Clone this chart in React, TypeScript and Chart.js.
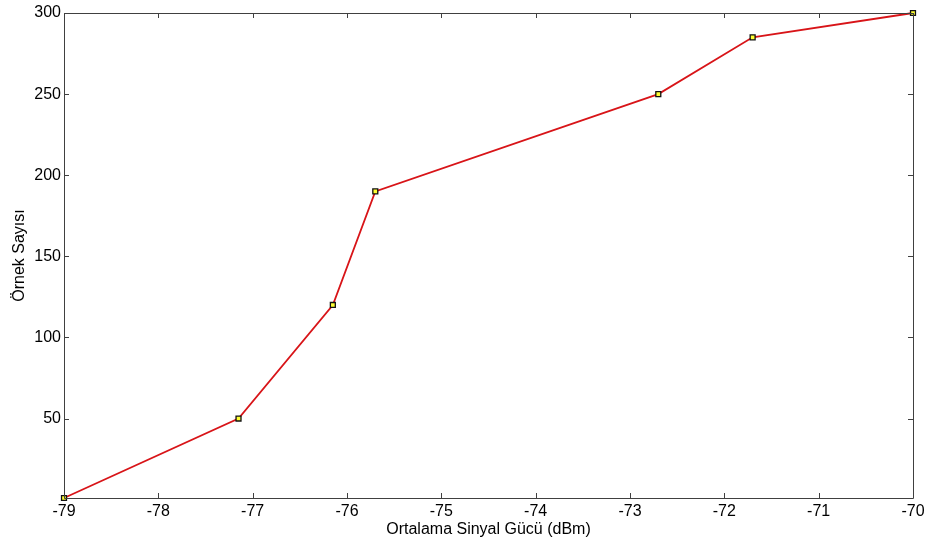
import React, { useEffect, useRef } from "react";
import { Chart, registerables } from "chart.js";

Chart.register(...registerables);

const signalDbm = [-79, -77.15, -76.15, -75.7, -72.7, -71.7, -70];
const sampleCounts = [1, 50, 120, 190, 250, 285, 300];
const xTickValues = [-79, -78, -77, -76, -75, -74, -73, -72, -71, -70];
const yTickValues = [50, 100, 150, 200, 250, 300];
const xTitle = "Ortalama Sinyal Gücü (dBm)";
const yTitle = "Örnek Sayısı";

const FONT = "'Liberation Sans', Arial, sans-serif";

const boxPlugin = {
  id: "matlabBox",
  afterDatasetsDraw(chart: any) {
    const { ctx, chartArea } = chart;
    const { left, right, top, bottom } = chartArea;
    const xs = chart.scales.x;
    const ys = chart.scales.y;
    const len = 5;
    ctx.save();
    ctx.strokeStyle = "#404040";
    ctx.lineWidth = 1;
    ctx.beginPath();
    ctx.rect(Math.round(left) + 0.5, Math.round(top) + 0.5, Math.round(right - left), Math.round(bottom - top));
    for (const v of xTickValues) {
      const px = Math.round(xs.getPixelForValue(v)) + 0.5;
      ctx.moveTo(px, bottom);
      ctx.lineTo(px, bottom - len);
      ctx.moveTo(px, top);
      ctx.lineTo(px, top + len);
    }
    for (const v of yTickValues) {
      const py = Math.round(ys.getPixelForValue(v)) + 0.5;
      ctx.moveTo(left, py);
      ctx.lineTo(left + len, py);
      ctx.moveTo(right, py);
      ctx.lineTo(right - len, py);
    }
    ctx.stroke();
    ctx.restore();
  },
};

export default function App() {
  const ref = useRef<HTMLCanvasElement | null>(null);
  useEffect(() => {
    if (!ref.current) return;
    const data = signalDbm.map((x, i) => ({ x, y: sampleCounts[i] }));
    const chart = new Chart(ref.current, {
      type: "scatter",
      data: {
        datasets: [
          {
            data,
            showLine: true,
            borderColor: "#d81418",
            borderWidth: 1.8,
            pointStyle: "rect",
            pointRadius: 3.5,
            pointBackgroundColor: "#ffff33",
            pointBorderColor: "#111111",
            pointBorderWidth: 1.3,
            clip: false,
          } as any,
        ],
      },
      options: {
        animation: false,
        responsive: true,
        maintainAspectRatio: false,
        layout: { padding: { left: 0, right: 13, top: 13, bottom: 0 } },
        plugins: { legend: { display: false }, tooltip: { enabled: false } },
        scales: {
          x: {
            type: "linear",
            min: -79,
            max: -70,
            afterBuildTicks: (s: any) => {
              s.ticks = xTickValues.map((value) => ({ value }));
            },
            afterFit: (s: any) => {
              s.height = 43;
              s.paddingLeft = 0;
              s.paddingRight = 0;
            },
            grid: { display: false, drawTicks: false },
            border: { display: false },
            ticks: {
              color: "#000",
              font: { family: FONT, size: 16 },
              padding: 4,
              maxRotation: 0,
              autoSkip: false,
              callback: (v: any) => String(v),
            },
            title: {
              display: true,
              text: xTitle,
              color: "#000",
              font: { family: FONT, size: 16 },
              padding: { top: 0, bottom: 2 },
            },
          },
          y: {
            type: "linear",
            min: 1,
            max: 300,
            afterBuildTicks: (s: any) => {
              s.ticks = yTickValues.map((value) => ({ value }));
            },
            afterFit: (s: any) => {
              s.width = 64;
              s.paddingTop = 0;
              s.paddingBottom = 0;
            },
            grid: { display: false, drawTicks: false },
            border: { display: false },
            ticks: {
              color: "#000",
              font: { family: FONT, size: 16 },
              padding: 3,
              autoSkip: false,
              callback: (v: any) => String(v),
            },
            title: {
              display: true,
              text: yTitle,
              color: "#000",
              font: { family: FONT, size: 16 },
              padding: { top: 10, bottom: 0 },
            },
          },
        },
      },
      plugins: [boxPlugin],
    });
    return () => chart.destroy();
  }, []);
  return (
    <div style={{ position: "fixed", left: 0, top: 0, width: 926, height: 541, background: "#fff" }}>
      <canvas ref={ref} />
    </div>
  );
}
